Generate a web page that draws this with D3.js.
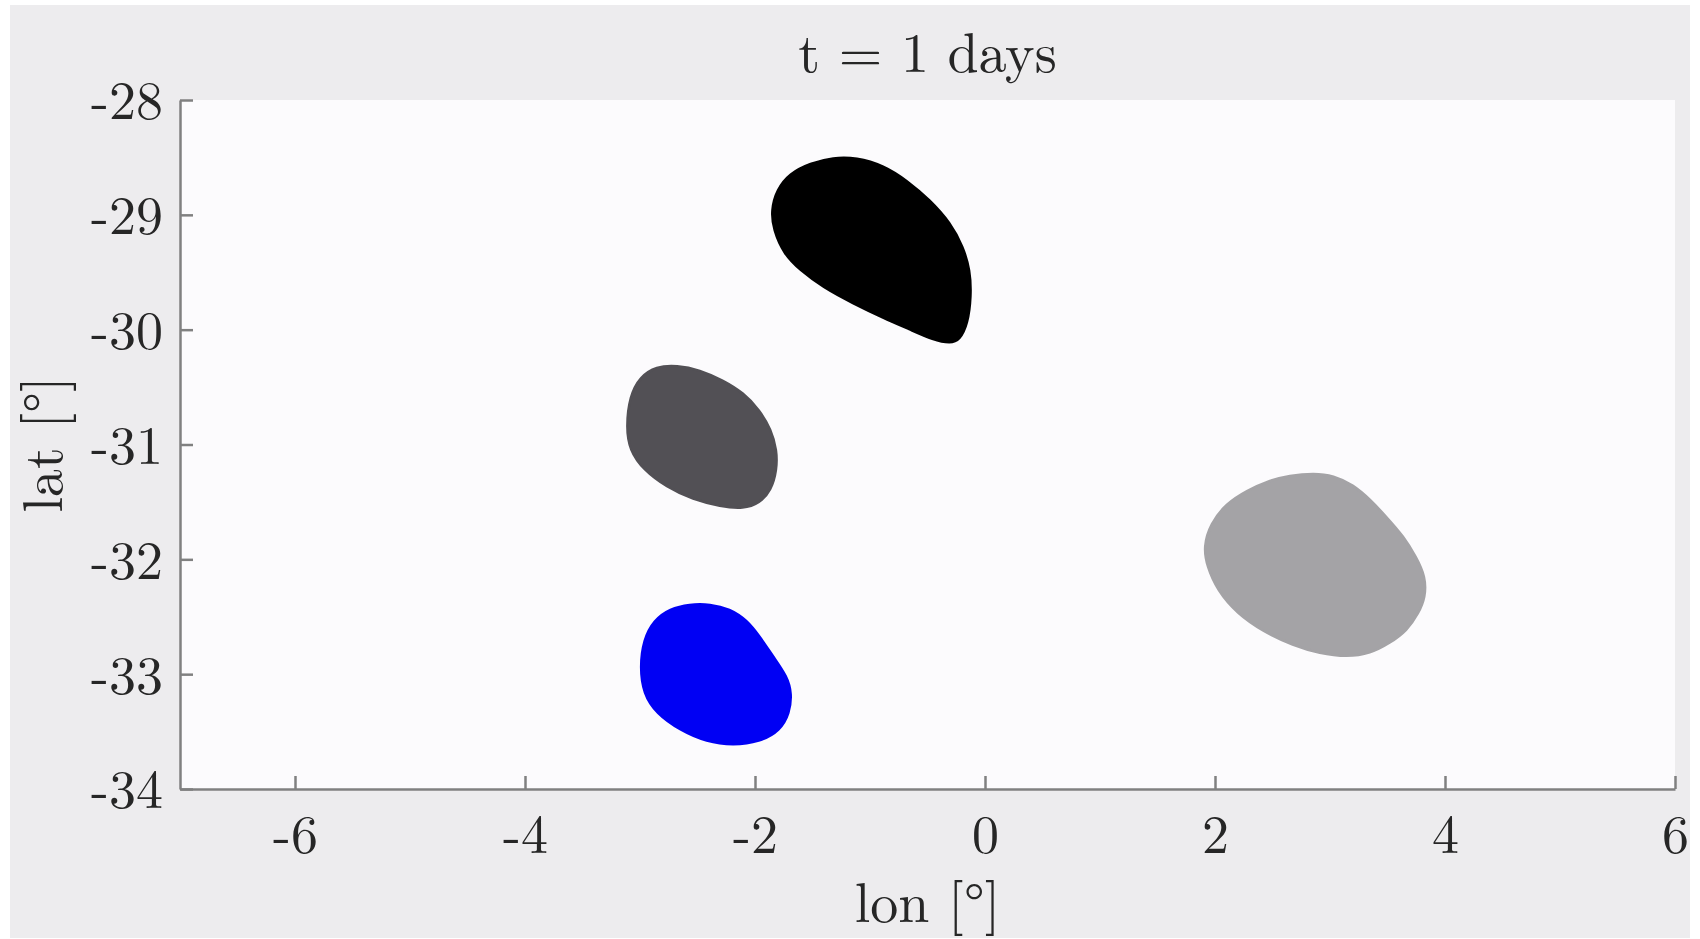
<!DOCTYPE html>
<html>
<head>
<meta charset="utf-8">
<script src="https://cdn.jsdelivr.net/npm/d3@7"></script>
<style>
  body { margin: 0; background: #ffffff; }
  text { font-family: "Latin Modern Roman", "CMU Serif", "Liberation Serif", "DejaVu Serif", serif; fill: #262626; }
</style>
</head>
<body>
<svg id="chart" width="1700" height="939"></svg>
<script>
// patch outlines, [lon, lat]
const blackPatch = [
  [-1.86, -28.96], [-1.81, -28.78], [-1.70, -28.64], [-1.52, -28.55], [-1.32, -28.50],
  [-1.12, -28.50], [-0.88, -28.57], [-0.68, -28.70], [-0.48, -28.87], [-0.30, -29.07],
  [-0.19, -29.28], [-0.13, -29.48], [-0.12, -29.71], [-0.15, -29.95], [-0.22, -30.09],
  [-0.30, -30.12], [-0.45, -30.09], [-0.65, -30.00], [-0.88, -29.90], [-1.15, -29.77],
  [-1.41, -29.63], [-1.61, -29.48], [-1.75, -29.34], [-1.84, -29.13]
];
const darkGreyPatch = [
  [-3.12, -30.85], [-3.09, -30.58], [-3.00, -30.41], [-2.86, -30.32], [-2.68, -30.31],
  [-2.48, -30.35], [-2.28, -30.44], [-2.10, -30.55], [-1.96, -30.70], [-1.86, -30.87],
  [-1.81, -31.05], [-1.81, -31.22], [-1.86, -31.40], [-1.96, -31.51], [-2.10, -31.56],
  [-2.30, -31.54], [-2.54, -31.48], [-2.77, -31.37], [-2.97, -31.22], [-3.09, -31.05]
];
const bluePatch = [
  [-3.00, -32.94], [-2.97, -32.70], [-2.88, -32.53], [-2.74, -32.43], [-2.57, -32.39],
  [-2.39, -32.39], [-2.22, -32.43], [-2.07, -32.53], [-1.96, -32.67], [-1.84, -32.85],
  [-1.72, -33.02], [-1.68, -33.17], [-1.70, -33.34], [-1.78, -33.49], [-1.96, -33.59],
  [-2.19, -33.62], [-2.42, -33.59], [-2.65, -33.49], [-2.86, -33.34], [-2.97, -33.17]
];
const lightGreyPatch = [
  [1.90, -31.89], [1.96, -31.69], [2.10, -31.51], [2.28, -31.40], [2.45, -31.32],
  [2.65, -31.27], [2.86, -31.25], [3.03, -31.27], [3.20, -31.35], [3.35, -31.48],
  [3.49, -31.63], [3.64, -31.80], [3.75, -31.98], [3.83, -32.15], [3.83, -32.33],
  [3.77, -32.47], [3.67, -32.62], [3.52, -32.73], [3.35, -32.82], [3.15, -32.85],
  [2.91, -32.82], [2.68, -32.75], [2.42, -32.63], [2.19, -32.47], [2.02, -32.27],
  [1.93, -32.06]
];
const patchColors = ["#000000", "#525055", "#0000f4", "#a4a3a6"];

const xTicks = [-6, -4, -2, 0, 2, 4, 6];
const yTicks = [-34, -33, -32, -31, -30, -29, -28];
const titleText = "t = 1 days";
const xLabel = "lon [°]";
const yLabel = "lat [°]";

const svg = d3.select("#chart");

// figure background
svg.append("rect")
  .attr("x", 10).attr("y", 5)
  .attr("width", 1680).attr("height", 933)
  .attr("fill", "#edecee");

const plotL = 180, plotR = 1675, plotT = 100, plotB = 789;

const x = d3.scaleLinear().domain([-7, 6]).range([plotL, plotR]);
const y = d3.scaleLinear().domain([-34, -28]).range([plotB, plotT]);

// axes area
svg.append("rect")
  .attr("x", plotL).attr("y", plotT)
  .attr("width", plotR - plotL).attr("height", plotB - plotT)
  .attr("fill", "#fcfbfd");

const line = d3.line()
  .x(d => x(d[0]))
  .y(d => y(d[1]))
  .curve(d3.curveBasisClosed);

[blackPatch, darkGreyPatch, bluePatch, lightGreyPatch].forEach((p, i) => {
  svg.append("path")
    .attr("d", line(p))
    .attr("fill", patchColors[i])
    .attr("stroke", patchColors[i])
    .attr("stroke-width", 2.5);
});

// plain hyphen labels like the original
const fmt = d => String(d);

const xAxis = svg.append("g")
  .attr("transform", `translate(0,${plotB})`)
  .call(d3.axisBottom(x).tickValues(xTicks).tickFormat(fmt)
    .tickSizeInner(-13).tickSizeOuter(0).tickPadding(0));

const yAxis = svg.append("g")
  .attr("transform", `translate(${plotL},0)`)
  .call(d3.axisLeft(y).tickValues(yTicks).tickFormat(fmt)
    .tickSizeInner(-13).tickSizeOuter(0).tickPadding(17));

[xAxis, yAxis].forEach(g => {
  g.select(".domain").attr("stroke", "#808080").attr("stroke-width", 2.5);
  g.selectAll(".tick line").attr("stroke", "#808080").attr("stroke-width", 2.5);
  g.selectAll(".tick text")
    .attr("font-size", 54)
    .attr("font-family", null)
    .attr("fill", "#262626");
});

xAxis.selectAll(".tick text").attr("y", 45).attr("dy", "0.35em");
yAxis.selectAll(".tick text").attr("dy", "0.35em");

// title and labels
svg.append("text")
  .attr("x", (plotL + plotR) / 2).attr("y", 72)
  .attr("text-anchor", "middle")
  .attr("font-size", 56)
  .text(titleText);

svg.append("text")
  .attr("x", (plotL + plotR) / 2).attr("y", 922)
  .attr("text-anchor", "middle")
  .attr("font-size", 56)
  .text(xLabel);

svg.append("text")
  .attr("transform", `translate(62,${(plotT + plotB) / 2}) rotate(-90)`)
  .attr("text-anchor", "middle")
  .attr("font-size", 56)
  .text(yLabel);
</script>
</body>
</html>
